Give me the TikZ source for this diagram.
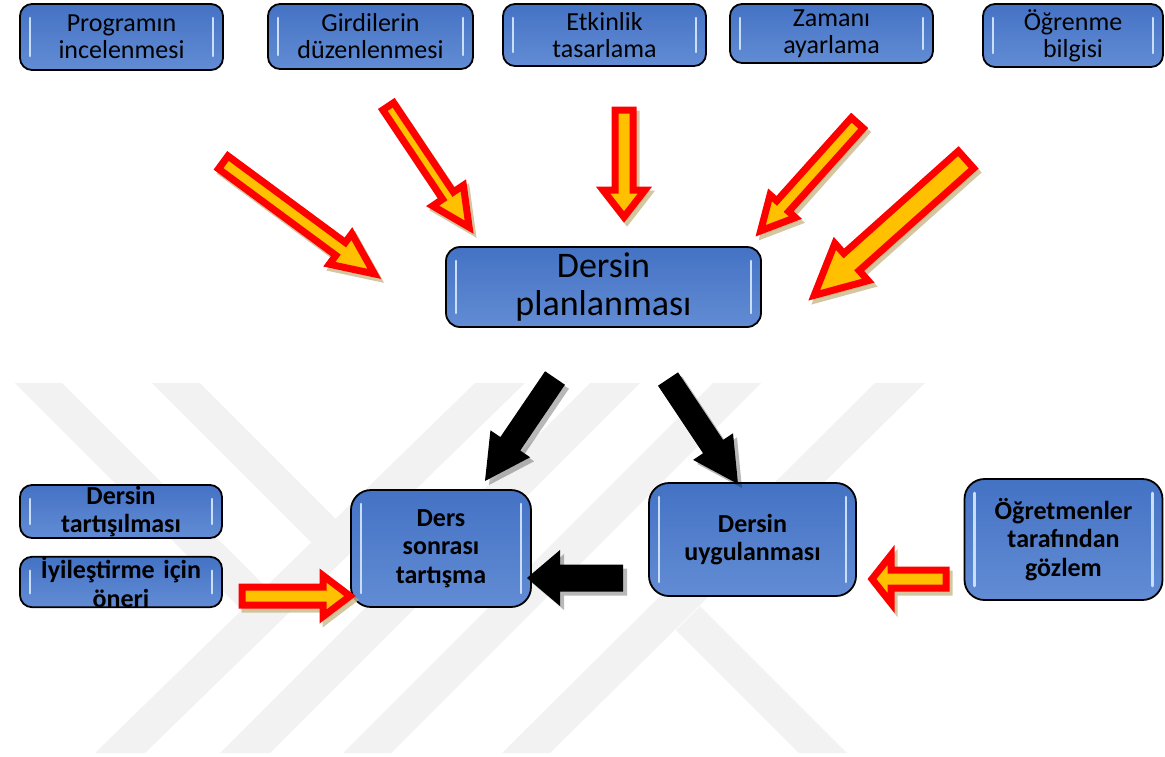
\documentclass[tikz,border=0pt]{standalone}
\usepackage{fontspec}
\setmainfont{Carlito}
\usetikzlibrary{calc}
\definecolor{boxblue}{RGB}{68,114,196}
\definecolor{boxlight}{RGB}{98,140,212}
\definecolor{hilite}{RGB}{200,222,250}
\definecolor{arrred}{RGB}{255,0,0}
\definecolor{arrorange}{RGB}{255,192,0}
\definecolor{tanshadow}{RGB}{200,184,138}
\definecolor{wmark}{RGB}{242,242,242}
\newcommand\arrowpoly[6]{% #1 style, #2 tail, #3 tip, #4 head base, #5 half shaft, #6 half head
  \path[#1] ($(#2)!#5!90:(#3)$) -- ($(#4)!#5!90:(#3)$) -- ($(#4)!#6!90:(#3)$) -- (#3)
    -- ($(#4)!#6!-90:(#3)$) -- ($(#4)!#5!-90:(#3)$) -- ($(#2)!#5!-90:(#3)$) -- cycle;}
\newcommand\redarrow[5]{% tail, tip, half shaft, half head, head length
  \coordinate (ra-s) at ($(#1)!4pt!(#2)$);
  \coordinate (ra-e) at ($(#2)!7pt!(#1)$);
  \coordinate (ra-b) at ($(ra-e)!#5!(ra-s)$);
  \arrowpoly{redshadow}{ra-s}{ra-e}{ra-b}{#3}{#4}
  \arrowpoly{redarr}{ra-s}{ra-e}{ra-b}{#3}{#4}}
\newcommand\blackarrow[5]{% tail, tip, half shaft, half head, head length
  \coordinate (ba-b) at ($(#2)!#5!(#1)$);
  \arrowpoly{blackshadow}{#1}{#2}{ba-b}{#3}{#4}
  \arrowpoly{blackarr}{#1}{#2}{ba-b}{#3}{#4}}
\tikzset{
  redarr/.style={draw=arrred, fill=arrorange, line width=7pt, line join=miter},
  redshadow/.style={draw=tanshadow, fill=tanshadow, line width=7pt, line join=miter,
    opacity=0.8, transform canvas={shift={(3pt,-4pt)}}},
  blackarr/.style={fill=black},
  blackshadow/.style={fill=black, opacity=0.28, transform canvas={shift={(4pt,-4pt)}}},
  bx/.style={draw=black, line width=1.8pt, top color=boxblue, middle color=boxblue,
    bottom color=boxlight, rounded corners=#1,
    align=center, inner sep=0pt,
    path picture={
      \draw[hilite, line width=2.6pt, line cap=round]
        ([xshift=10pt,yshift=-14pt]path picture bounding box.north west)
          -- ([xshift=10pt,yshift=14pt]path picture bounding box.south west)
        ([xshift=-10pt,yshift=-14pt]path picture bounding box.north east)
          -- ([xshift=-10pt,yshift=14pt]path picture bounding box.south east);}},
  topbox/.style={bx=12pt, font=\fontsize{26}{27}\selectfont, text width=180pt},
  planbox/.style={bx=14pt, font=\fontsize{36}{38}\selectfont, text width=290pt},
  smallbox/.style={bx=12pt, font=\bfseries\fontsize{26}{28.5}\selectfont, text width=190pt},
  bigbox/.style={bx=20pt, font=\bfseries\fontsize{26}{28.5}\selectfont, text width=180pt},
}
\begin{document}
\begin{tikzpicture}[x=1pt,y=-1pt]
\useasboundingbox (0,0) rectangle (1165,756);
% watermark
\begin{scope}
\clip (0,383) rectangle (1165,753);
\fill[wmark] (15,383) -- (62,383) -- (265.7,586.7) -- (241.9,609.9) -- cycle;
\fill[wmark] (152,383) -- (200,383) -- (335.7,518.7) -- (311.3,542.3) -- cycle;
\fill[wmark] (475,383) -- (525,383) -- (145,753) -- (95,753) -- cycle;
\fill[wmark] (590,383) -- (640,383) -- (270,753) -- (220,753) -- cycle;
\fill[wmark] (713,383) -- (761,383) -- (391,753) -- (343,753) -- cycle;
\fill[wmark] (875,383) -- (925,383) -- (550,753) -- (502,753) -- cycle;
\fill[wmark] (700,606) -- (676,630) -- (799,753) -- (847,753) -- cycle;
\end{scope}
% boxes
\node[topbox, minimum width=203pt, minimum height=66pt] (p1) at (121.5,37) {Programın\\incelenmesi};
\node[topbox, minimum width=205pt, minimum height=65pt] (p2) at (370.5,36.5) {Girdilerin\\düzenlenmesi};
\node[topbox, minimum width=203pt, minimum height=62pt] (p3) at (604.5,35) {Etkinlik\\tasarlama};
\node[topbox, minimum width=203pt, minimum height=59pt] (p4) at (831.5,33.5) {Zamanı\\ayarlama};
\node[topbox, minimum width=178pt, minimum height=63pt] (p5) at (1073,35.5) {Öğrenme\\bilgisi};
\node[planbox, minimum width=315pt, minimum height=80pt] (plan) at (603.5,287) {Dersin\\planlanması};
\node[smallbox, minimum width=202pt, minimum height=53pt] (dt) at (121,511.5) {Dersin\\tartışılması};
\node[smallbox, minimum width=202pt, minimum height=50pt] (io) at (121,582) {İyileştirme için\\öneri};
\node[bigbox, minimum width=164pt, minimum height=117pt] (ds) at (441,548.5) {Ders\\sonrası\\tartışma};
\node[bigbox, minimum width=207pt, minimum height=113pt] (du) at (752.5,539.5) {Dersin\\uygulanması};
\node[bigbox, minimum width=198pt, minimum height=121pt] (og) at (1063.5,539.5) {Öğretmenler\\tarafından\\gözlem};
% arrow ends
\coordinate (a1t) at (220,160); \coordinate (a1h) at (380,278);
\coordinate (a2t) at (386,103); \coordinate (a2h) at (473,233);
\coordinate (a3t) at (624,106); \coordinate (a3h) at (624,224);
\coordinate (a4t) at (860,120); \coordinate (a4h) at (756,236);
\coordinate (a5t) at (969,157); \coordinate (a5h) at (809,300);
\coordinate (b1t) at (238,596); \coordinate (b1h) at (357,596);
\coordinate (b2t) at (950,579); \coordinate (b2h) at (865,579);
\coordinate (c1t) at (555,378); \coordinate (c1h) at (485,481);
\coordinate (c2t) at (668,379); \coordinate (c2h) at (738,484);
\coordinate (c3t) at (623,578); \coordinate (c3h) at (527,578);
% red arrows
\redarrow{a1t}{a1h}{8pt}{19pt}{42pt}
\redarrow{a2t}{a2h}{6.5pt}{18.5pt}{38pt}
\redarrow{a3t}{a3h}{9pt}{21pt}{27pt}
\redarrow{a4t}{a4h}{8pt}{17pt}{33pt}
\redarrow{a5t}{a5h}{11.5pt}{25pt}{50pt}
\redarrow{b1t}{b1h}{9pt}{20.5pt}{27pt}
\redarrow{b2t}{b2h}{9pt}{24pt}{19pt}
% black arrows
\blackarrow{c1t}{c1h}{12pt}{24pt}{45pt}
\blackarrow{c2t}{c2h}{12pt}{24pt}{45pt}
\blackarrow{c3t}{c3h}{13.5pt}{28pt}{33pt}
\end{tikzpicture}
\end{document}
